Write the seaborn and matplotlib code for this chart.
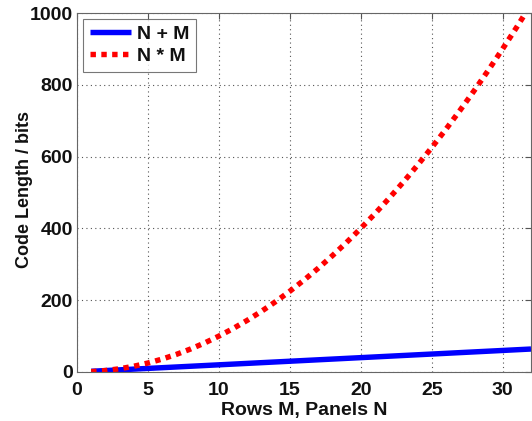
import matplotlib
matplotlib.use("Agg")
import matplotlib.pyplot as plt
import seaborn as sns
import pandas as pd

panels = [1, 2, 3, 4, 5, 6, 7, 8, 9, 10, 11, 12, 13, 14, 15, 16,
          17, 18, 19, 20, 21, 22, 23, 24, 25, 26, 27, 28, 29, 30, 31, 32]
sum_bits = [2, 4, 6, 8, 10, 12, 14, 16, 18, 20, 22, 24, 26, 28, 30, 32,
            34, 36, 38, 40, 42, 44, 46, 48, 50, 52, 54, 56, 58, 60, 62, 64]
prod_bits = [1, 4, 9, 16, 25, 36, 49, 64, 81, 100, 121, 144, 169, 196, 225, 256,
             289, 324, 361, 400, 441, 484, 529, 576, 625, 676, 729, 784, 841, 900, 961, 1024]
series_names = ["N + M", "N * M"]
x_ticks = [0, 5, 10, 15, 20, 25, 30]
y_ticks = [0, 200, 400, 600, 800, 1000]

sns.set_style("white")
plt.rcParams['font.family'] = ['Liberation Sans', 'DejaVu Sans']
plt.rcParams['font.weight'] = 'bold'

FS = 14

df = pd.DataFrame({"x": panels + panels,
                   "y": sum_bits + prod_bits,
                   "s": [series_names[0]] * len(panels) + [series_names[1]] * len(panels)})

fig = plt.figure(figsize=(5.32, 4.21), dpi=100)
ax = fig.add_axes([77 / 532, 1 - 372 / 421, (531 - 77) / 532, (372 - 13) / 421])

sns.lineplot(data=df, x="x", y="y", hue="s", style="s",
             palette={series_names[0]: "#0000ff", series_names[1]: "#ff0000"},
             dashes={series_names[0]: "", series_names[1]: (1, 1)},
             linewidth=3.9, ax=ax, legend=True)
for ln in ax.get_lines():
    ln.set_dash_capstyle('butt')
    ln.set_solid_capstyle('butt')

ax.set_xlim(0, 32)
ax.set_ylim(0, 1000)
ax.set_xticks(x_ticks)
ax.set_yticks(y_ticks)
ax.tick_params(direction='in', length=4, width=0.8, color='#555555',
               labelsize=FS, top=True, right=True, pad=3, labelcolor='#111111')
ax.tick_params(axis='x', pad=7)
for lbl in ax.get_xticklabels() + ax.get_yticklabels():
    lbl.set_fontweight('bold')
ax.grid(True, linestyle=(0, (1, 3)), color='#555555', linewidth=0.8)
for sp in ax.spines.values():
    sp.set_color('#666666')
    sp.set_linewidth(0.8)

ax.set_xlabel("Rows M, Panels N", fontsize=FS, fontweight='bold', color='#111111')
ax.set_ylabel("Code Length / bits", fontsize=13, fontweight='bold', color='#111111')
ax.xaxis.set_label_coords(0.5, (372 - 402) / 359)
ax.yaxis.set_label_coords((33 - 77) / 454, (372 - 189) / 359)

handles, labels = ax.get_legend_handles_labels()
leg = ax.legend(handles, labels, loc='upper left', fontsize=FS, frameon=True,
                fancybox=False, edgecolor='#555555', handlelength=2.15,
                borderaxespad=0.3, handletextpad=0.3, borderpad=0.35, labelspacing=0.2)
leg.get_frame().set_linewidth(0.8)
for t in leg.get_texts():
    t.set_fontweight('bold')
    t.set_color('#111111')
for h in leg.get_lines():
    h.set_linewidth(3.9)
    h.set_dash_capstyle('butt')

fig.savefig("out.png", dpi=100)
